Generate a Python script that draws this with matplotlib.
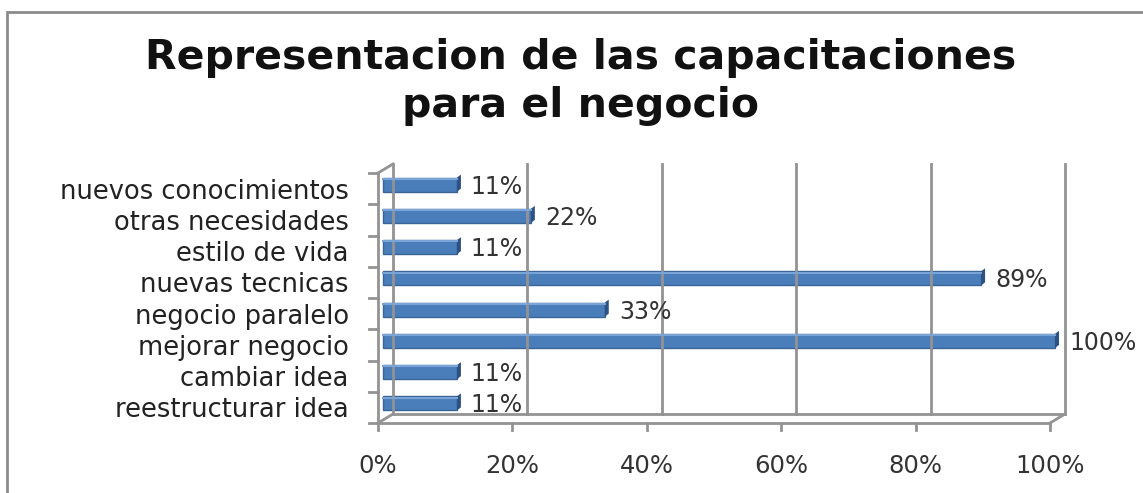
import matplotlib.pyplot as plt
from matplotlib.transforms import ScaledTranslation
from matplotlib.patches import Rectangle, Polygon

plt.rcParams['font.family'] = ['DejaVu Sans']

categorias = ['reestructurar idea', 'cambiar idea', 'mejorar negocio', 'negocio paralelo',
              'nuevas tecnicas', 'estilo de vida', 'otras necesidades', 'nuevos conocimientos']
valores = [0.11, 0.11, 1.00, 0.33, 0.89, 0.11, 0.22, 0.11]
etiquetas = ['11%', '11%', '100%', '33%', '89%', '11%', '22%', '11%']
ticks_x = [0, 0.2, 0.4, 0.6, 0.8, 1.0]
ticks_x_lbl = ['0%', '20%', '40%', '60%', '80%', '100%']

W, H = 1143, 493
fig = plt.figure(figsize=(W / 100, H / 100), dpi=100)
fig.patch.set_facecolor('white')

# marco exterior del grafico
fig.patches.append(Rectangle((7 / W, -0.1), 1.2, 1 - 12 / H + 0.1, transform=fig.transFigure,
                             fill=False, edgecolor='#8c8c8c', linewidth=2))

x0, x1 = 378, 1050
yb, yt = 423, 173
ax = fig.add_axes([x0 / W, 1 - yb / H, (x1 - x0) / W, (yb - yt) / H])
ax.set_xlim(0, 1)
ax.set_ylim(-0.5, 7.5)
for s in ax.spines.values():
    s.set_visible(False)
ax.tick_params(length=0)

gris = '#939393'
dx, dy = 15, 9
atras = ax.transData + ScaledTranslation(dx / 100, dy / 100, fig.dpi_scale_trans)
medio = ax.transData + ScaledTranslation(5 / 100, 4 / 100, fig.dpi_scale_trans)
px = 1 / (x1 - x0)          # 1 pixel en x (datos)
py = 8 / (yb - yt)          # 1 pixel en y (datos)

# pared del fondo (cuadricula)
for t in ticks_x:
    ax.plot([t, t], [-0.5, 7.5], color=gris, lw=2, transform=atras, clip_on=False)
ax.plot([0, 1], [-0.5, -0.5], color=gris, lw=2, transform=atras, clip_on=False)
# piso y pared lateral
ax.plot([0, 1], [-0.5, -0.5], color=gris, lw=2, clip_on=False)
ax.plot([0, 0], [-0.5, 7.5], color=gris, lw=2, clip_on=False)
ax.plot([0, dx * px], [7.5, 7.5 + dy * py], color=gris, lw=2, clip_on=False)
ax.plot([0, dx * px], [-0.5, -0.5 + dy * py], color=gris, lw=2, clip_on=False)
ax.plot([1, 1 + dx * px], [-0.5, -0.5 + dy * py], color=gris, lw=2, clip_on=False)
for i in range(9):
    ax.plot([-9 * px, 0], [i - 0.5, i - 0.5], color=gris, lw=2, clip_on=False)
for t in ticks_x:
    ax.plot([t, t], [-0.5, -0.5 - 7 * py], color=gris, lw=2, clip_on=False)

# barras
h = 0.45
bars = ax.barh(range(len(valores)), valores, height=h, color='#4a7ebb',
               edgecolor='#3a6396', linewidth=1)
for b in bars:
    b.set_transform(medio)
    b.set_clip_on(False)
for i, v in enumerate(valores):
    cara = Polygon([(v, i - h / 2), (v + 4 * px, i - h / 2 + 3 * py),
                    (v + 4 * px, i + h / 2 + 3 * py), (v, i + h / 2)], closed=True,
                   facecolor='#2d5183', edgecolor='none', transform=medio, clip_on=False)
    ax.add_patch(cara)
    ax.plot([0, v], [i + h / 2 - 0.04, i + h / 2 - 0.04], color='#7aa3d6', lw=1.5,
            transform=medio, clip_on=False)
    ax.annotate(etiquetas[i], xy=(v, i), xycoords=medio, xytext=(14, -2),
                textcoords='offset pixels', va='center', ha='left', fontsize=17,
                color='#333333', annotation_clip=False)

ax.set_yticks(range(len(categorias)))
ax.set_yticklabels(categorias, fontsize=18.5, color='#222222')
ax.tick_params(axis='y', pad=21)
ax.set_xticks(ticks_x)
ax.set_xticklabels(ticks_x_lbl, fontsize=17.5, color='#333333')
ax.tick_params(axis='x', pad=22)

fig.text(0.508, 1 - 58 / H, 'Representacion de las capacitaciones', ha='center', va='center',
         fontsize=29.5, fontweight='bold', color='#111111')
fig.text(0.508, 1 - 106 / H, 'para el negocio', ha='center', va='center',
         fontsize=29.5, fontweight='bold', color='#111111')

fig.savefig('out.png', dpi=100)
